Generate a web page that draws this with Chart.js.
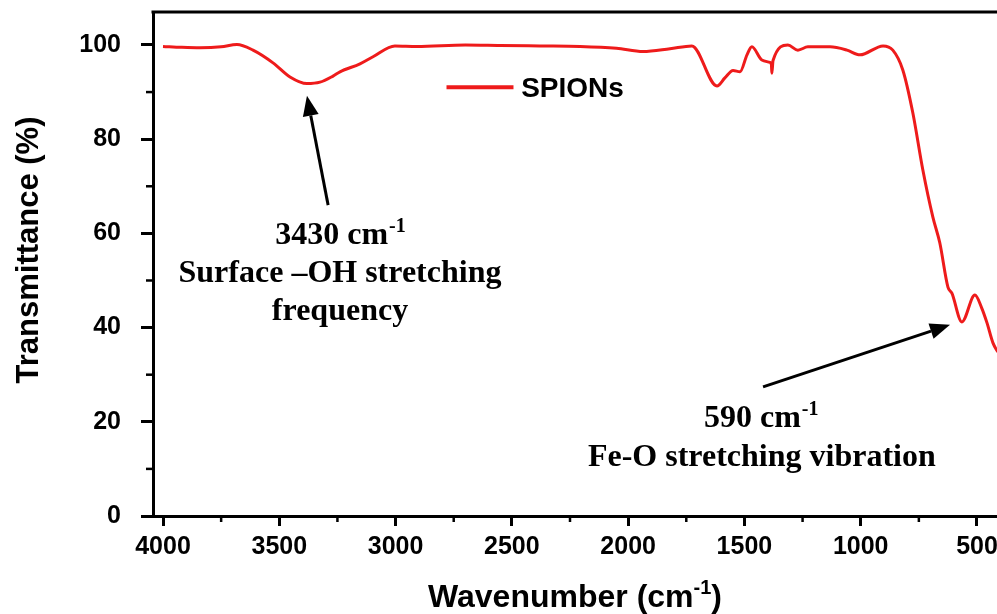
<!DOCTYPE html>
<html>
<head>
<meta charset="utf-8">
<title>FTIR SPIONs</title>
<script src="https://cdn.jsdelivr.net/npm/chart.js@4.4.1/dist/chart.umd.min.js"></script>
<style>
  html, body { margin: 0; padding: 0; background: #fff; }
  canvas { display: block; }
</style>
</head>
<body>
<canvas id="ftirChart" width="997" height="614"></canvas>
<script>
// FTIR spectrum
const wavenumbers = [4000, 3920, 3841, 3750, 3682, 3613, 3527, 3454, 3381, 3325, 3269, 3239, 3153, 3097, 3003, 2908, 2700, 2551, 2380, 2207, 2050, 1936, 1820, 1726, 1618, 1584, 1549, 1519, 1489, 1468, 1425, 1390, 1384, 1382, 1377, 1313, 1270, 1227, 1132, 1059, 1003, 904, 862, 819, 776, 733, 690, 660, 625, 608, 565, 509, 480, 457, 431, 410];
const transmittance = [99.7, 99.5, 99.4, 99.6, 100.1, 98.9, 96.2, 93.2, 91.8, 92.1, 93.4, 94.3, 96.0, 97.5, 99.8, 99.7, 100.0, 99.9, 99.8, 99.7, 99.3, 98.6, 99.2, 99.8, 91.3, 93.0, 94.6, 94.3, 97.9, 99.6, 96.8, 96.3, 95.8, 94.0, 96.7, 100.0, 98.9, 99.6, 99.6, 98.9, 97.9, 99.8, 98.9, 94.7, 85.6, 73.5, 63.5, 58.0, 48.6, 47.3, 41.2, 46.9, 44.2, 41.0, 36.7, 34.8];

const xTickValues = [4000, 3500, 3000, 2500, 2000, 1500, 1000, 500];
const xMinorTicks = [3750, 3250, 2750, 2250, 1750, 1250, 750];
const yTickValues = [0, 20, 40, 60, 80, 100];
const yMinorTicks = [10, 30, 50, 70, 90];
const seriesName = "SPIONs";
const lineColor = "#ee1b1b";

// annotations (positions in data units)
const notes = [
  { from: [3290, 66], to: [3381, 89.2],
    lines: [
      { x: 3239, y: 57.8, text: "3430 cm", sup: "-1" },
      { x: 3239, y: 49.7, text: "Surface \u2013OH stretching" },
      { x: 3239, y: 41.6, text: "frequency" }
    ] },
  { from: [1420, 27.4], to: [616, 40.6],
    lines: [
      { x: 1430, y: 18.8, text: "590 cm", sup: "-1" },
      { x: 1425, y: 10.7, text: "Fe-O stretching vibration" }
    ] }
];

const serifFont = "bold 32px 'Liberation Serif', 'Times New Roman', serif";
const serifSup = "bold 20px 'Liberation Serif', 'Times New Roman', serif";
const sansFamily = "'Liberation Sans', Arial, Helvetica, sans-serif";

function drawArrow(ctx, x1, y1, x2, y2) {
  const ang = Math.atan2(y2 - y1, x2 - x1);
  const headLen = 20, headW = 8;
  const bx = x2 - headLen * Math.cos(ang), by = y2 - headLen * Math.sin(ang);
  ctx.beginPath();
  ctx.moveTo(x1, y1);
  ctx.lineTo(bx, by);
  ctx.stroke();
  ctx.beginPath();
  ctx.moveTo(x2, y2);
  ctx.lineTo(bx + headW * Math.sin(ang), by - headW * Math.cos(ang));
  ctx.lineTo(bx - headW * Math.sin(ang), by + headW * Math.cos(ang));
  ctx.closePath();
  ctx.fill();
}

const extrasPlugin = {
  id: "extras",
  afterDraw(chart) {
    const ctx = chart.ctx;
    const xs = chart.scales.x, ys = chart.scales.y;
    const area = chart.chartArea;
    ctx.save();

    // top frame line
    ctx.strokeStyle = "#000";
    ctx.lineWidth = 3;
    ctx.beginPath();
    ctx.moveTo(area.left - 1.5, area.top);
    ctx.lineTo(chart.width, area.top);
    ctx.stroke();

    // minor ticks
    ctx.lineWidth = 2.5;
    xMinorTicks.forEach(v => {
      const px = xs.getPixelForValue(v);
      ctx.beginPath();
      ctx.moveTo(px, area.bottom);
      ctx.lineTo(px, area.bottom + 6);
      ctx.stroke();
    });
    yMinorTicks.forEach(v => {
      const py = ys.getPixelForValue(v);
      ctx.beginPath();
      ctx.moveTo(area.left, py);
      ctx.lineTo(area.left - 7, py);
      ctx.stroke();
    });

    // axis titles
    ctx.fillStyle = "#000";
    ctx.font = "bold 32px " + sansFamily;
    ctx.textBaseline = "alphabetic";
    const xt1 = "Wavenumber (cm", xt2 = ")";
    const w1 = ctx.measureText(xt1).width, w3 = ctx.measureText(xt2).width;
    ctx.font = "bold 20px " + sansFamily;
    const w2 = ctx.measureText("-1").width;
    let sx = (area.left + area.right) / 2 - (w1 + w2 + w3) / 2;
    ctx.font = "bold 32px " + sansFamily;
    ctx.textAlign = "left";
    ctx.fillText(xt1, sx, 607);
    ctx.font = "bold 20px " + sansFamily;
    ctx.fillText("-1", sx + w1, 594);
    ctx.font = "bold 32px " + sansFamily;
    ctx.fillText(xt2, sx + w1 + w2, 607);

    ctx.save();
    ctx.translate(38, 250);
    ctx.rotate(-Math.PI / 2);
    ctx.textAlign = "center";
    ctx.font = "bold 31px " + sansFamily;
    ctx.fillText("Transmittance (%)", 0, 0);
    ctx.restore();

    // legend
    const ds = chart.data.datasets[0];
    const ly = ys.getPixelForValue(91.0);
    ctx.strokeStyle = ds.borderColor;
    ctx.lineWidth = 4;
    ctx.beginPath();
    ctx.moveTo(xs.getPixelForValue(2781), ly);
    ctx.lineTo(xs.getPixelForValue(2493), ly);
    ctx.stroke();
    ctx.fillStyle = "#000";
    ctx.font = "bold 28px " + sansFamily;
    ctx.textAlign = "left";
    ctx.fillText(ds.label, xs.getPixelForValue(2460), ly + 10);

    // annotations
    notes.forEach(n => {
      ctx.strokeStyle = "#000";
      ctx.fillStyle = "#000";
      ctx.lineWidth = 3;
      drawArrow(ctx, xs.getPixelForValue(n.from[0]), ys.getPixelForValue(n.from[1]),
        xs.getPixelForValue(n.to[0]), ys.getPixelForValue(n.to[1]));
      n.lines.forEach(l => {
        ctx.font = serifFont;
        const mw = ctx.measureText(l.text).width;
        let sw = 0;
        if (l.sup) { ctx.font = serifSup; sw = ctx.measureText(l.sup).width; }
        const left = xs.getPixelForValue(l.x) - (mw + sw) / 2;
        const base = ys.getPixelForValue(l.y);
        ctx.textAlign = "left";
        ctx.font = serifFont;
        ctx.fillText(l.text, left, base);
        if (l.sup) {
          ctx.font = serifSup;
          ctx.fillText(l.sup, left + mw + 1, base - 12);
        }
      });
    });
    ctx.restore();
  }
};

const tickFont = { family: sansFamily, weight: "bold", size: 25 };

const chart = new Chart(document.getElementById("ftirChart").getContext("2d"), {
  type: "line",
  data: {
    datasets: [{
      label: seriesName,
      data: wavenumbers.map((w, i) => ({ x: w, y: transmittance[i] })),
      borderColor: lineColor,
      backgroundColor: lineColor,
      borderWidth: 3,
      pointRadius: 0,
      cubicInterpolationMode: "monotone",
      fill: false
    }]
  },
  options: {
    responsive: false,
    animation: false,
    layout: { padding: { top: 12, right: 0, left: 0, bottom: 0 } },
    plugins: { legend: { display: false }, tooltip: { enabled: false } },
    scales: {
      x: {
        type: "linear",
        reverse: true,
        min: 414,
        max: 4043,
        afterBuildTicks: s => { s.ticks = xTickValues.map(v => ({ value: v })); },
        afterFit: s => { s.height = 98; s.paddingLeft = 0; s.paddingRight = 0; },
        border: { display: true, color: "#000", width: 3 },
        grid: { drawOnChartArea: false, drawTicks: true, tickLength: 10, tickWidth: 3, tickColor: "#000" },
        ticks: { color: "#000", font: tickFont, padding: 6, maxRotation: 0, callback: v => String(v) }
      },
      y: {
        min: 0,
        max: 107,
        afterBuildTicks: s => { s.ticks = yTickValues.map(v => ({ value: v })); },
        afterFit: s => { s.width = 153; s.paddingTop = 0; s.paddingBottom = 0; },
        border: { display: true, color: "#000", width: 3 },
        grid: { drawOnChartArea: false, drawTicks: true, tickLength: 12, tickWidth: 3, tickColor: "#000" },
        ticks: { color: "#000", font: tickFont, padding: 20, callback: v => String(v) }
      }
    }
  },
  plugins: [extrasPlugin]
});
</script>
</body>
</html>
